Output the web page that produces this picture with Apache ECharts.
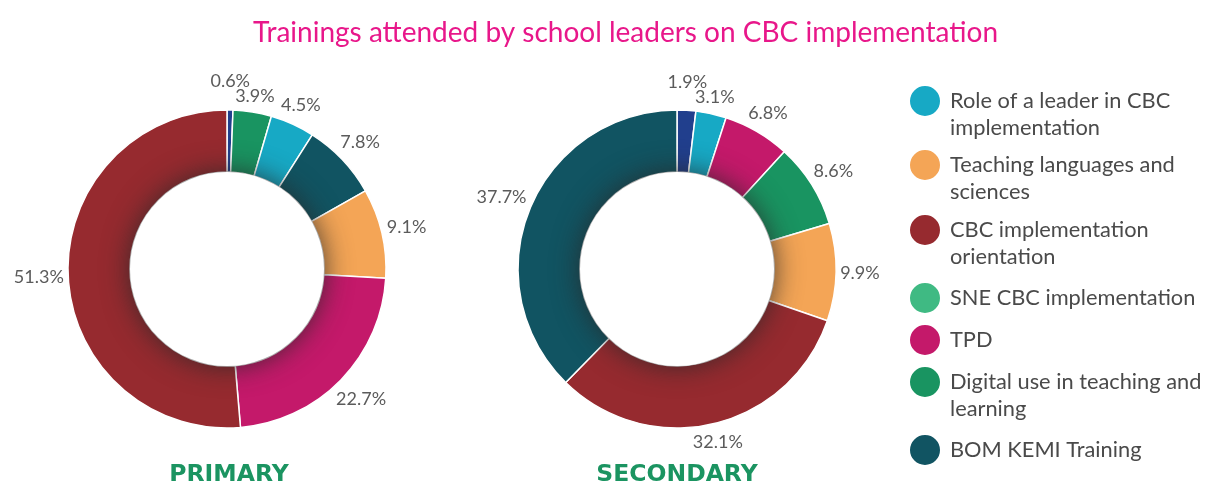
<!DOCTYPE html>
<html>
<head>
<meta charset="utf-8">
<script src="https://cdn.jsdelivr.net/npm/echarts@6/dist/echarts.min.js"></script>
<style>
  html, body { margin: 0; padding: 0; background: #fff; }
  #chart { width: 1207px; height: 487px; }
</style>
</head>
<body>
<div id="chart"></div>
<script>
// categories (legend order)
const categories = [
  'Role of a leader in CBC implementation',
  'Teaching languages and sciences',
  'CBC implementation orientation',
  'SNE CBC implementation',
  'TPD',
  'Digital use in teaching and learning',
  'BOM KEMI Training'
]
const legendLabels = [
  'Role of a leader in CBC\nimplementation',
  'Teaching languages and\nsciences',
  'CBC implementation\norientation',
  'SNE CBC implementation',
  'TPD',
  'Digital use in teaching and\nlearning',
  'BOM KEMI Training'
]

// slices, clockwise from 12 o'clock
const primaryNames = [
  'SNE CBC implementation',
  'Digital use in teaching and learning',
  'Role of a leader in CBC implementation',
  'BOM KEMI Training',
  'Teaching languages and sciences',
  'TPD',
  'CBC implementation orientation'
]
const primaryValues = [0.6, 3.9, 4.5, 7.8, 9.1, 22.7, 51.3]

const secondaryNames = [
  'SNE CBC implementation',
  'Role of a leader in CBC implementation',
  'TPD',
  'Digital use in teaching and learning',
  'Teaching languages and sciences',
  'CBC implementation orientation',
  'BOM KEMI Training'
]
const secondaryValues = [1.9, 3.1, 6.8, 8.6, 9.9, 32.1, 37.7]

const sliceColors = {
  'Role of a leader in CBC implementation': '#17a9c5',
  'Teaching languages and sciences': '#f4a556',
  'CBC implementation orientation': '#962a2f',
  'SNE CBC implementation': '#213f8d',
  'TPD': '#c4196a',
  'Digital use in teaching and learning': '#199461',
  'BOM KEMI Training': '#115462'
}
const legendColors = Object.assign({}, sliceColors, { 'SNE CBC implementation': '#3fba83' })

const FONT = 'Lato, "Open Sans", sans-serif'
const chart = echarts.init(document.getElementById('chart'))

const ringRadius = [97, 159]

// label boxes from the previous layout pass, used to lift a label clear of its neighbour
const naturalBoxes = {}

// push each label out along its slice's radial direction so its box sits just off the ring
const placeLabel = (params) => {
  const pts = params.labelLinePoints
  if (!pts) return {}
  const vx = pts[1][0] - pts[0][0]
  const vy = pts[1][1] - pts[0][1]
  const len = Math.hypot(vx, vy) || 1
  const ux = vx / len
  const uy = vy / len
  const w = params.labelRect.width
  const h = params.labelRect.height
  const reach = 4 + Math.abs(ux) * w / 2 + Math.abs(uy) * h / 2
  const x = pts[0][0] + ux * reach
  let y = pts[0][1] + uy * reach
  naturalBoxes[params.seriesIndex + '-' + params.dataIndex] = { x, y, w, h }

  const next = naturalBoxes[params.seriesIndex + '-' + (params.dataIndex + 1)]
  if (next && Math.abs(next.x - x) < (w + next.w) / 2 && Math.abs(next.y - y) < (h + next.h) / 2) {
    y = Math.min(y, next.y - (h + next.h) / 2 + 3)
  }
  return { x, y, align: 'center', verticalAlign: 'middle' }
}

const makePie = (names, values, center) => ({
  type: 'pie',
  center: center,
  radius: ringRadius,
  startAngle: 90,
  clockwise: true,
  avoidLabelOverlap: false,
  animation: false,
  emphasis: { disabled: true },
  itemStyle: { borderColor: '#fff', borderWidth: 1.5 },
  label: {
    show: true,
    position: 'outside',
    fontFamily: FONT,
    fontSize: 18,
    color: '#5b5b5b',
    formatter: (p) => p.value.toFixed(1) + '%'
  },
  labelLine: { show: true, length: 10, length2: 0, lineStyle: { opacity: 0 } },
  labelLayout: placeLabel,
  data: names.map((n, i) => ({
    name: n,
    value: values[i],
    itemStyle: { color: sliceColors[n] }
  }))
})

// white hole with soft shadow spilling onto the ring
const makeHole = (center) => ({
  type: 'pie',
  center: center,
  radius: [0, ringRadius[0]],
  silent: true,
  animation: false,
  label: { show: false },
  labelLine: { show: false },
  itemStyle: {
    color: '#fff',
    shadowBlur: 28,
    shadowColor: 'rgba(40, 40, 40, 0.85)'
  },
  data: [{ name: '_hole', value: 1 }]
})

const iconCentersY = [101, 165, 230, 297, 339, 382, 449]
const legends = categories.map((name, i) => {
  const twoLine = legendLabels[i].indexOf('\n') >= 0
  // a blank first line keeps the icon level with the first text line
  const text = twoLine ? '\n' + legendLabels[i] : legendLabels[i]
  return {
    orient: 'vertical',
    left: 908,
    top: iconCentersY[i] - (twoLine ? 40.5 : 16),
    padding: 0,
    icon: 'circle',
    itemWidth: 40,
    itemHeight: 32,
    selectedMode: false,
    formatter: () => text,
    textStyle: {
      fontFamily: FONT,
      fontSize: 21.8,
      lineHeight: 27,
      color: '#4a4a4a'
    },
    data: [{ name: name, itemStyle: { color: legendColors[name] } }]
  }
})

const subTitleStyle = {
  align: 'center',
  verticalAlign: 'middle',
  fontFamily: '"DejaVu Sans", Lato, sans-serif',
  fontSize: 23.5,
  fontWeight: 'bold',
  fill: '#1b9461'
}

const option = {
  backgroundColor: '#fff',
  title: {
    text: 'Trainings attended by school leaders on CBC implementation',
    left: 248,
    top: 14,
    textStyle: {
      fontFamily: FONT,
      fontSize: 28,
      fontWeight: 'normal',
      color: '#e8178a'
    }
  },
  legend: legends,
  graphic: [
    { type: 'text', x: 229, y: 475, style: Object.assign({ text: 'PRIMARY' }, subTitleStyle) },
    { type: 'text', x: 677, y: 475, style: Object.assign({ text: 'SECONDARY' }, subTitleStyle) }
  ],
  series: [
    makePie(primaryNames, primaryValues, [227, 269]),
    makePie(secondaryNames, secondaryValues, [677, 269]),
    makeHole([227, 269]),
    makeHole([677, 269])
  ]
}

chart.setOption(option)
// second pass: every label box is known now, so neighbours can be separated
chart.setOption(option)
</script>
</body>
</html>
